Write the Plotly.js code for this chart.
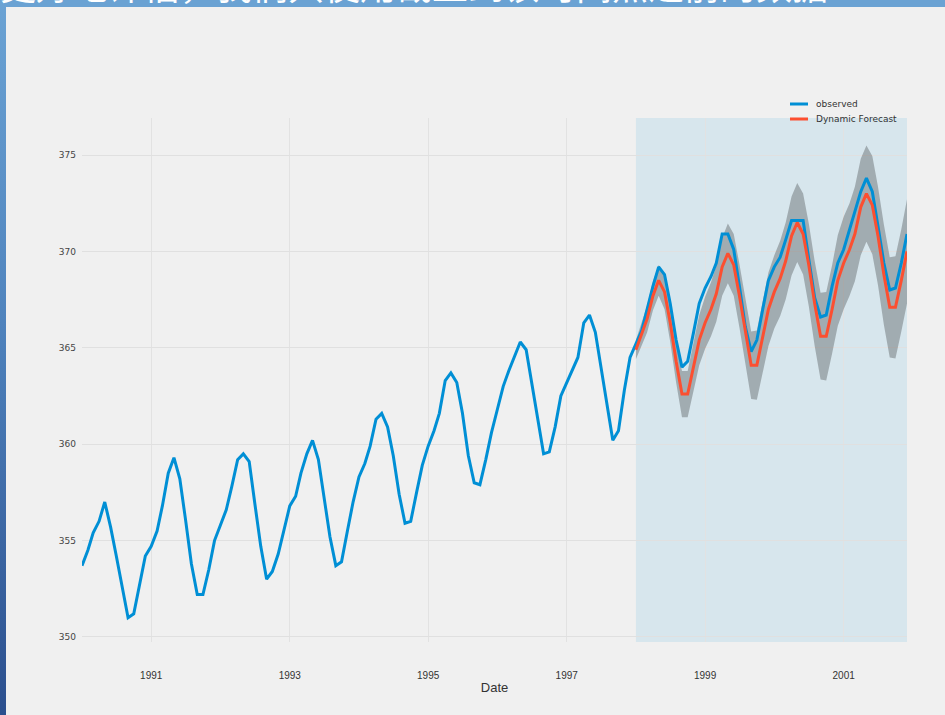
<!DOCTYPE html>
<html>
<head>
<meta charset="utf-8">
<script src="https://cdn.plot.ly/plotly-3.0.1.min.js"></script>
<style>
  html, body { margin: 0; padding: 0; background: #f0f0f0; }
  #wrap { position: relative; width: 945px; height: 715px; overflow: hidden; background: #f0f0f0; }
  #topbar { position: absolute; left: 0; top: 0; width: 945px; height: 7px; background: #6aa2d3; }
  #leftbar { position: absolute; left: 0; top: 0; width: 6px; height: 715px;
             background: linear-gradient(to bottom, #6ba3d4 0%, #4f83bd 45%, #2b4f8e 100%); }
  #chart { position: absolute; left: 0; top: 0; width: 945px; height: 715px; }
</style>
</head>
<body>
<div id="wrap">
  <div id="topbar"></div>
  <div id="leftbar"></div>
  <div id="chart"></div>
</div>
<script>
// ---- data ----
const startYear = 1990;
const forecastStartYear = 1998;

const observed = [
  353.7, 354.5, 355.4, 356.0, 357.0, 355.7, 354.2, 352.6, 351.0, 351.2, 352.8, 354.2,
  354.7, 355.5, 356.8, 358.5, 359.3, 358.2, 356.1, 353.8, 352.2, 352.2, 353.5, 355.0,
  355.8, 356.6, 357.8, 359.2, 359.5, 359.1, 356.9, 354.7, 353.0, 353.4, 354.3, 355.5,
  356.8, 357.3, 358.5, 359.5, 360.2, 359.2, 357.1, 355.2, 353.7, 353.9, 355.5, 357.0,
  358.3, 359.0, 359.9, 361.3, 361.6, 360.9, 359.4, 357.4, 355.9, 356.0, 357.5, 358.9,
  359.9, 360.7, 361.6, 363.3, 363.7, 363.2, 361.6, 359.4, 358.0, 357.9, 359.2, 360.6,
  361.8, 363.0, 363.8, 364.6, 365.3, 364.9, 363.2, 361.3, 359.5, 359.6, 360.9, 362.5,
  363.2, 363.9, 364.5, 366.3, 366.7, 365.8, 364.0, 362.1, 360.2, 360.7, 362.8, 364.5,
  365.2, 365.9, 367.0, 368.2, 369.2, 368.8, 367.3, 365.4, 364.0, 364.3, 365.8, 367.3,
  368.1, 368.7, 369.4, 370.9, 370.9, 370.1, 368.2, 366.1, 364.8, 365.4, 367.0, 368.5,
  369.2, 369.7, 370.6, 371.6, 371.6, 371.6, 369.6, 367.6, 366.6, 366.7, 368.2, 369.4,
  370.1, 371.1, 372.0, 373.1, 373.8, 373.1, 371.3, 369.4, 368.0, 368.1, 369.4, 370.9
];

const forecast = [
  364.9, 365.7, 366.5, 367.7, 368.5, 367.9, 366.3, 364.3, 362.6, 362.6, 364.0, 365.4,
  366.3, 367.0, 367.8, 369.2, 369.9, 369.3, 367.7, 365.8, 364.1, 364.1, 365.5, 367.0,
  367.9, 368.6, 369.5, 370.8, 371.5, 370.9, 369.3, 367.3, 365.6, 365.6, 367.0, 368.5,
  369.4, 370.1, 370.9, 372.3, 373.0, 372.4, 370.8, 368.8, 367.1, 367.1, 368.5, 370.0
];

const ciLower = [
  364.4, 365.1, 365.8, 366.95, 367.7, 367.0, 365.3, 363.2, 361.4, 361.4, 362.75, 364.1,
  364.95, 365.6, 366.35, 367.7, 368.35, 367.7, 366.05, 364.1, 362.35, 362.3, 363.65, 365.1,
  366.0, 366.65, 367.5, 368.75, 369.45, 368.8, 367.15, 365.1, 363.35, 363.3, 364.7, 366.15,
  367.0, 367.7, 368.45, 369.8, 370.5, 369.85, 368.25, 366.2, 364.5, 364.45, 365.85, 367.3
];

const ciUpper = [
  365.4, 366.3, 367.2, 368.45, 369.3, 368.8, 367.3, 365.4, 363.8, 363.8, 365.25, 366.7,
  367.65, 368.4, 369.25, 370.7, 371.45, 370.9, 369.35, 367.5, 365.85, 365.9, 367.35, 368.9,
  369.8, 370.55, 371.5, 372.85, 373.55, 373.0, 371.45, 369.5, 367.85, 367.9, 369.3, 370.85,
  371.8, 372.5, 373.35, 374.8, 375.5, 374.95, 373.35, 371.4, 369.7, 369.75, 371.15, 372.7
];

const seriesNames = ['observed', 'Dynamic Forecast'];
const seriesColors = ['#008fd5', '#fc4f30'];
const xTickLabels = ['1991', '1993', '1995', '1997', '1999', '2001'];
const yTickValues = [350, 355, 360, 365, 370, 375];
const xAxisTitle = 'Date';
const headerText = '为了更好地评估，我们只使用截止到该时间点之前的数据';

// ---- helpers ----
function monthDates(year, n) {
  const out = [];
  for (let i = 0; i < n; i++) {
    const y = year + Math.floor(i / 12);
    const m = (i % 12) + 1;
    out.push(y + '-' + String(m).padStart(2, '0') + '-01');
  }
  return out;
}
const obsDates = monthDates(startYear, observed.length);
const fcDates = monthDates(forecastStartYear, forecast.length);
const xTickVals = xTickLabels.map(t => t + '-01-01');

const traces = [
  { x: fcDates, y: ciLower, type: 'scatter', mode: 'lines', line: { width: 0, color: 'rgba(0,0,0,0)' },
    showlegend: false, hoverinfo: 'skip' },
  { x: fcDates, y: ciUpper, type: 'scatter', mode: 'lines', line: { width: 0, color: 'rgba(0,0,0,0)' },
    fill: 'tonexty', fillcolor: 'rgba(0,0,0,0.25)', showlegend: false, hoverinfo: 'skip' },
  { x: obsDates, y: observed, type: 'scatter', mode: 'lines', name: seriesNames[0],
    line: { color: seriesColors[0], width: 3 }, showlegend: false },
  { x: fcDates, y: forecast, type: 'scatter', mode: 'lines', name: seriesNames[1],
    line: { color: seriesColors[1], width: 3 }, showlegend: false }
];

// plot area in pixels: left 82, right 907, top 118, bottom 642
const L = 82, R = 907, T = 118, B = 642;
const px = p => (p - L) / (R - L);
const py = q => (B - q) / (B - T);

// hand-drawn legend (matplotlib style short line samples)
const legendShapes = seriesNames.map((n, i) => ({
  type: 'line', xref: 'paper', yref: 'paper',
  x0: px(790), x1: px(808), y0: py(104 + 15 * i), y1: py(104 + 15 * i),
  line: { color: seriesColors[i], width: 3 }
}));
const legendTexts = seriesNames.map((n, i) => ({
  xref: 'paper', yref: 'paper', x: px(814), y: py(104 + 15 * i),
  xanchor: 'left', yanchor: 'middle', showarrow: false, text: n,
  font: { family: 'DejaVu Sans, sans-serif', size: 9, color: '#333' }
}));

const layout = {
  width: 945, height: 715,
  margin: { l: L, r: 945 - R, t: T, b: 715 - B },
  paper_bgcolor: 'rgba(0,0,0,0)',
  plot_bgcolor: 'rgba(0,0,0,0)',
  showlegend: false,
  font: { family: 'DejaVu Sans, sans-serif', color: '#3a3a3a', size: 9 },
  xaxis: {
    type: 'date',
    range: [obsDates[0], obsDates[obsDates.length - 1]],
    tickvals: xTickVals, ticktext: xTickLabels,
    tickfont: { family: 'Liberation Sans Narrow, Liberation Sans, sans-serif', size: 10, color: '#333' },
    showgrid: true, gridcolor: '#e2e2e2', gridwidth: 1,
    zeroline: false, showline: false, ticks: '',
    ticklabelstandoff: 26,
    title: { text: xAxisTitle, font: { family: 'Liberation Sans Narrow, Liberation Sans, sans-serif', size: 13, color: '#333' }, standoff: 2 }
  },
  yaxis: {
    range: [349.74, 376.92],
    tickvals: yTickValues,
    tickfont: { family: 'DejaVu Sans, sans-serif', size: 9, color: '#444' },
    showgrid: true, gridcolor: '#e0e0e0', gridwidth: 1,
    zeroline: false, showline: false, ticks: '',
    ticklabelstandoff: 5
  },
  shapes: [
    { type: 'rect', xref: 'x', yref: 'paper', x0: fcDates[0], x1: obsDates[obsDates.length - 1],
      y0: 0, y1: 1, fillcolor: 'rgba(0,143,213,0.1)', line: { width: 0 }, layer: 'below' }
  ].concat(legendShapes),
  annotations: [
    { xref: 'paper', yref: 'paper', x: px(830), y: py(-16),
      xanchor: 'right', yanchor: 'middle', showarrow: false, text: headerText,
      font: { family: 'Noto Sans CJK SC, sans-serif', size: 36, color: '#ffffff' } }
  ].concat(legendTexts)
};

Plotly.newPlot('chart', traces, layout, { staticPlot: true, displayModeBar: false });
</script>
</body>
</html>
